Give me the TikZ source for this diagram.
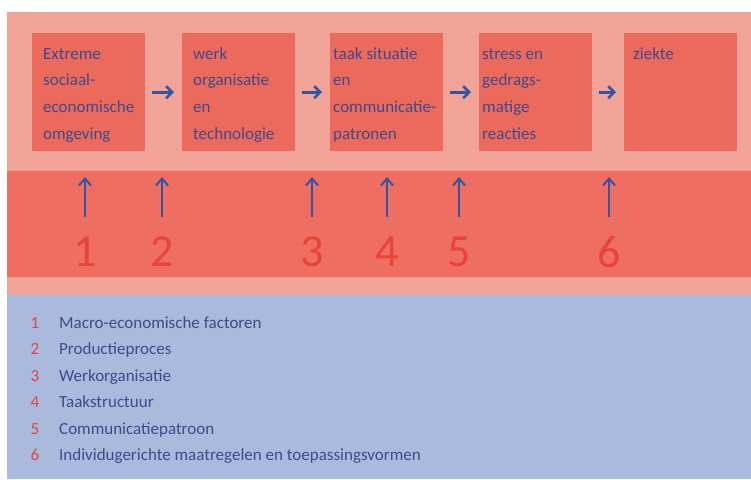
\documentclass[tikz,border=0pt]{standalone}
\usepackage{fontspec}
\setmainfont{Carlito}
\usetikzlibrary{arrows.meta,calc}
\definecolor{pinkbg}{HTML}{F1A398}
\definecolor{boxred}{HTML}{EC6A5C}
\definecolor{bandred}{HTML}{EE6E61}
\definecolor{bluebg}{HTML}{AABADC}
\definecolor{txtblue}{HTML}{3E4A8C}
\definecolor{arrblue}{HTML}{2F55A4}
\definecolor{numred}{HTML}{E8443A}
\tikzset{
  stagebox/.style={fill=boxred, draw=none, minimum width=113pt, minimum height=118pt, inner sep=0pt, anchor=north west},
  stagetext/.style={anchor=north west, inner sep=0pt, align=left, text=txtblue, font=\fontsize{17}{26.7}\selectfont},
  flowarrow/.style={draw=arrblue, line width=3pt, -{Straight Barb[length=6pt,width=12pt,line width=2.6pt]}},
  uparrow/.style={draw=arrblue, line width=2.3pt, -{Straight Barb[length=7pt,width=12pt,line width=2pt]}},
  bignum/.style={text=numred, font=\fontsize{46}{46}\selectfont, inner sep=0pt},
  legnum/.style={text=numred, font=\fontsize{17}{20}\selectfont, inner sep=0pt, anchor=base},
  legtext/.style={text=txtblue, font=\fontsize{17}{20}\selectfont, inner sep=0pt, anchor=base west},
}
\begin{document}
\begin{tikzpicture}[x=1pt,y=-1pt]
\useasboundingbox (0,0) rectangle (751,479);
\fill[white] (0,0) rectangle (751,479);
% backgrounds
\fill[pinkbg] (7,12) rectangle (751,295);
\fill[bandred] (7,171) rectangle (751,277);
\fill[bluebg] (7,295) rectangle (751,479);
% stage boxes
\node[stagebox] (b1) at (32,33) {};
\node[stagebox] (b2) at (182,33) {};
\node[stagebox] (b3) at (330,33) {};
\node[stagebox] (b4) at (479,33) {};
\node[stagebox] (b5) at (624,33) {};
\node[stagetext] (t1) at ($(b1.north west)+(11,13)$) {\rule{0pt}{13pt}Extreme\\sociaal-\\economische\\omgeving};
\node[stagetext] (t2) at ($(b2.north west)+(11,13)$) {\rule{0pt}{13pt}werk\\organisatie\\en\\technologie};
\node[stagetext] (t3) at ($(b3.north west)+(3,13)$) {\rule{0pt}{13pt}taak situatie\\en\\communicatie-\\patronen};
\node[stagetext] (t4) at ($(b4.north west)+(3,13)$) {\rule{0pt}{13pt}stress en\\gedrags-\\matige\\reacties};
\node[stagetext] (t5) at ($(b5.north west)+(9,13)$) {\rule{0pt}{13pt}ziekte};
% flow arrows
\foreach \a/\b in {b1/b2,b2/b3,b3/b4,b4/b5}{
  \draw[flowarrow] ($(\a.east)+(7,0)$) -- ($(\b.west)+(-8,0)$);
}
% up arrows and numbers
\foreach \i/\x in {1/85,2/162,3/312,4/387,5/459,6/609}{
  \node[bignum] (n\i) at (\x,252) {\i};
  \coordinate (top\i) at (\x,177);
  \draw[uparrow] (\x,217) -- (top\i);
}
% legend
\foreach \i/\y/\t in {1/328/{Macro-economische factoren},2/354.5/{Productieproces},3/381/{Werkorganisatie},4/407/{Taakstructuur},5/434/{Communicatiepatroon},6/460/{Individugerichte maatregelen en toepassingsvormen}}{
  \node[legnum] (l\i) at (35,\y) {\i};
  \node[legtext] (lt\i) at (59,\y) {\t};
}
\end{tikzpicture}
\end{document}
